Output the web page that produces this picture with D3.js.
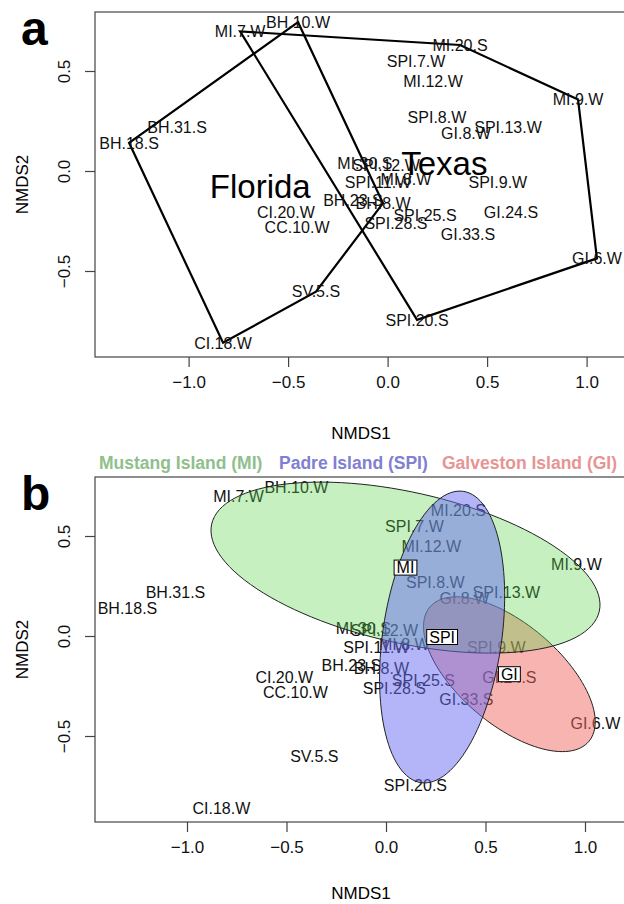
<!DOCTYPE html>
<html>
<head>
<meta charset="utf-8">
<script src="https://cdn.jsdelivr.net/npm/d3@7"></script>
<style>
body { margin: 0; background: #fff; }
text { font-family: "Liberation Sans", Arial, Helvetica, sans-serif; }
</style>
</head>
<body>
<div id="chart-area"></div>
<script>
// site scores
var sites = ["MI.7.W", "BH.10.W", "MI.20.S", "SPI.7.W", "MI.12.W", "MI.9.W", "SPI.8.W",
    "GI.8.W", "SPI.13.W", "BH.31.S", "BH.18.S", "MI.30.S", "SPI.12.W", "SPI.11.W",
    "MI.8.W", "SPI.9.W", "BH.23.S", "BH.8.W", "CI.20.W", "SPI.25.S", "GI.24.S",
    "CC.10.W", "SPI.28.S", "GI.33.S", "GI.6.W", "SV.5.S", "SPI.20.S", "CI.18.W"];
var nmds1 = [-0.741, -0.450, 0.364, 0.143, 0.228, 0.957, 0.248,
    0.394, 0.605, -1.058, -1.299, -0.114, -0.008, -0.048,
    0.092, 0.554, -0.174, -0.023, -0.511, 0.188, 0.620,
    -0.455, 0.042, 0.404, 1.052, -0.360, 0.148, -0.827];
var nmds2 = [0.698, 0.744, 0.630, 0.548, 0.447, 0.357, 0.271,
    0.191, 0.221, 0.221, 0.141, 0.040, 0.030, -0.055,
    -0.040, -0.055, -0.146, -0.161, -0.206, -0.221, -0.206,
    -0.281, -0.261, -0.317, -0.437, -0.603, -0.744, -0.859];
var state = sites.map(function(s) {
    return /^(BH|CI|CC|SV)/.test(s) ? "Florida" : "Texas";
});

var xTicks = [-1.0, -0.5, 0.0, 0.5, 1.0];
var yTicks = [-0.5, 0.0, 0.5];

// island ellipses (panel b), drawn in this order
var islands = ["GI", "MI", "SPI"];
var islandNames = ["Mustang Island (MI)", "Padre Island (SPI)", "Galveston Island (GI)"];
var ellCx = [0.620, 0.098, 0.282];
var ellCy = [-0.191, 0.342, -0.005];
var ellA = [0.522, 0.998, 0.736];
var ellB = [0.252, 0.377, 0.299];
var ellAngle = [-40, -12.6, 81.7];

var fillCol = {MI: "rgba(92,212,75,0.35)", SPI: "rgba(103,107,241,0.5)", GI: "rgba(239,105,97,0.5)"};
var legendCol = ["#8fbf8c", "#8080d2", "#e69494"];

var data = sites.map(function(s, i) {
    return {site: s, x: nmds1[i], y: nmds2[i], state: state[i]};
});

var svg = d3.select("#chart-area")
    .append("svg")
    .attr("width", 624)
    .attr("height", 904);

var font = "Liberation Sans, Arial, sans-serif";
var fmt = function(d) { return d3.format(".1f")(d).replace("-", "\u2212"); };

function panel(top, letter, xZero, titleGap) {
    var left = 95, right = 627, bottom = top + 345;
    var x = d3.scaleLinear().domain([-1, 1]).range([xZero - 199, xZero + 199]);
    var y = d3.scaleLinear().domain([-0.5, 0.5]).range([top + 159 + 100, top + 159 - 100]);

    var g = svg.append("g");

    g.append("rect")
        .attr("x", left).attr("y", top)
        .attr("width", right - left).attr("height", bottom - top)
        .attr("fill", "none").attr("stroke", "#444").attr("stroke-width", 1.2);

    var gx = g.append("g").attr("transform", "translate(0," + bottom + ")")
        .call(d3.axisBottom(x).tickValues(xTicks).tickSize(10).tickPadding(9).tickFormat(fmt));
    gx.select(".domain").remove();
    gx.selectAll("line").attr("stroke", "#444").attr("stroke-width", 1.2);
    gx.selectAll("text").attr("font-size", 17).attr("fill", "#111").attr("font-family", font);

    var gy = g.append("g").attr("transform", "translate(" + left + ",0)")
        .call(d3.axisLeft(y).tickValues(yTicks).tickSize(10).tickFormat(fmt));
    gy.select(".domain").remove();
    gy.selectAll("line").attr("stroke", "#444").attr("stroke-width", 1.2);
    gy.selectAll("text")
        .attr("font-size", 17).attr("fill", "#111").attr("font-family", font)
        .attr("x", 0).attr("y", 0)
        .attr("text-anchor", "middle")
        .attr("transform", "translate(" + (64 - left) + ",0) rotate(-90)")
        .attr("dy", "0.36em");

    g.append("text")
        .attr("x", (left + right) / 2).attr("y", bottom + titleGap)
        .attr("dy", "0.36em").attr("text-anchor", "middle")
        .attr("font-size", 17).text("NMDS1");
    g.append("text")
        .attr("transform", "translate(22," + (top + bottom) / 2 + ") rotate(-90)")
        .attr("dy", "0.36em").attr("text-anchor", "middle")
        .attr("font-size", 17).text("NMDS2");

    g.append("text")
        .attr("x", 21).attr("y", top + 33)
        .attr("font-size", 48).attr("font-weight", "bold")
        .text(letter);

    return {g: g, x: x, y: y};
}

// ---- panel a: convex hulls by state
var pa = panel(12, "a", 387.6, 76);

["Florida", "Texas"].forEach(function(st) {
    var pts = data.filter(function(d) { return d.state === st; })
        .map(function(d) { return [pa.x(d.x), pa.y(d.y)]; });
    var hull = d3.polygonHull(pts);
    pa.g.append("path")
        .attr("d", "M" + hull.join("L") + "Z")
        .attr("fill", "none").attr("stroke", "#000").attr("stroke-width", 2.2);
});

pa.g.selectAll(".lab").data(data).enter().append("text")
    .attr("x", function(d) { return pa.x(d.x); })
    .attr("y", function(d) { return pa.y(d.y); })
    .attr("dy", "0.36em").attr("text-anchor", "middle")
    .attr("font-size", 16).attr("fill", "#111")
    .text(function(d) { return d.site; });

var bigLabels = [{t: "Texas", x: 0.285, y: 0.04}, {t: "Florida", x: -0.64, y: -0.075}];
pa.g.selectAll(".big").data(bigLabels).enter().append("text")
    .attr("x", function(d) { return pa.x(d.x); })
    .attr("y", function(d) { return pa.y(d.y); })
    .attr("dy", "0.36em").attr("text-anchor", "middle")
    .attr("font-size", 33).attr("fill", "#000")
    .text(function(d) { return d.t; });

// ---- panel b: ellipses by island
var pb = panel(477, "b", 386, 71);

pb.g.selectAll(".lab").data(data).enter().append("text")
    .attr("x", function(d) { return pb.x(d.x); })
    .attr("y", function(d) { return pb.y(d.y); })
    .attr("dy", "0.36em").attr("text-anchor", "middle")
    .attr("font-size", 16).attr("fill", "#111")
    .text(function(d) { return d.site; });

var tSteps = d3.range(0, 361, 3);
var line = d3.line();
islands.forEach(function(isl, i) {
    var phi = ellAngle[i] * Math.PI / 180;
    var pts = tSteps.map(function(deg) {
        var t = deg * Math.PI / 180;
        var ex = ellCx[i] + ellA[i] * Math.cos(t) * Math.cos(phi) - ellB[i] * Math.sin(t) * Math.sin(phi);
        var ey = ellCy[i] + ellA[i] * Math.cos(t) * Math.sin(phi) + ellB[i] * Math.sin(t) * Math.cos(phi);
        return [pb.x(ex), pb.y(ey)];
    });
    pb.g.append("path")
        .attr("d", line(pts) + "Z")
        .attr("fill", fillCol[isl])
        .attr("stroke", "#222").attr("stroke-width", 1);
});

islands.forEach(function(isl, i) {
    var cx = pb.x(ellCx[i]), cy = pb.y(ellCy[i]);
    var lg = pb.g.append("g");
    var t = lg.append("text")
        .attr("x", cx).attr("y", cy)
        .attr("dy", "0.36em").attr("text-anchor", "middle")
        .attr("font-size", 16).attr("fill", "#000")
        .text(isl);
    var bb = t.node().getBBox();
    lg.insert("rect", "text")
        .attr("x", cx - bb.width / 2 - 2.5).attr("y", cy - 7.5)
        .attr("width", bb.width + 5).attr("height", 15)
        .attr("fill", "#fff").attr("stroke", "#000").attr("stroke-width", 1);
});

var legendX = [99, 279, 442];
islandNames.forEach(function(n, i) {
    svg.append("text")
        .attr("x", legendX[i]).attr("y", 463)
        .attr("dy", "0.36em")
        .attr("font-size", 17.5).attr("font-weight", "bold")
        .attr("fill", legendCol[i])
        .text(n);
});
</script>
</body>
</html>
